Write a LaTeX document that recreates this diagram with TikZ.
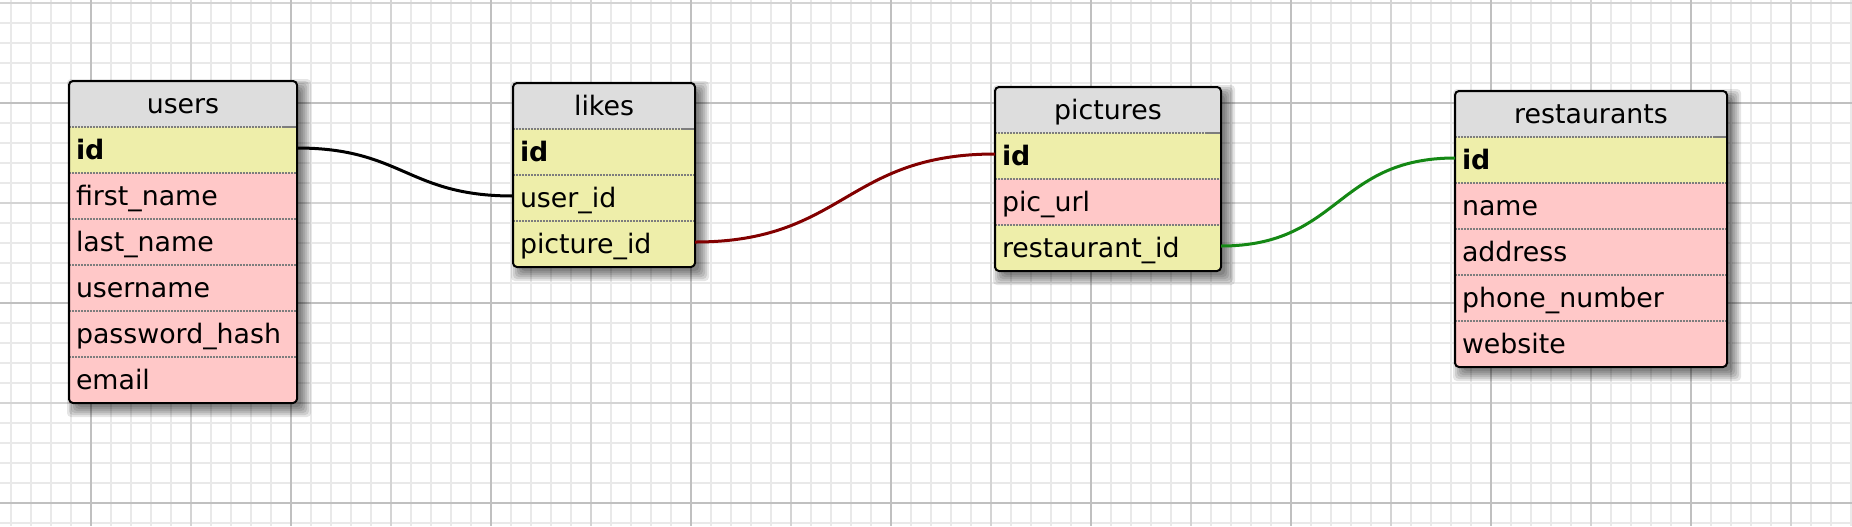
\documentclass[tikz,border=0pt]{standalone}
\usepackage{fontspec}
\setmainfont{DejaVu Sans}
\usetikzlibrary{positioning}
\definecolor{hdrcol}{RGB}{221,221,221}
\definecolor{keycol}{RGB}{238,238,170}
\definecolor{txtcol}{RGB}{255,200,200}
\definecolor{gridminor}{RGB}{233,233,233}
\definecolor{gridmid}{RGB}{212,212,212}
\definecolor{gridmajor}{RGB}{192,192,192}
\definecolor{sepcol}{RGB}{125,125,125}
\definecolor{relred}{RGB}{130,0,0}
\definecolor{relgreen}{RGB}{20,136,20}
\pgfdeclarelayer{gridlayer}
\pgfdeclarelayer{shadowlayer}
\pgfsetlayers{gridlayer,shadowlayer,main}
\newcommand\tableshadow[2]{%
  \begin{pgfonlayer}{shadowlayer}
    \foreach \a/\b in {8/4,6/6,4/8,2/10,0/12,-2/14}
      \fill[black,opacity=0.1,rounded corners=2pt]
        ([shift={(\a,\a)}]#1.north west) rectangle ([shift={(\b,\b)}]#2.south east);
  \end{pgfonlayer}}
\tikzset{
  cell/.style={rectangle, inner xsep=3.5pt, inner ysep=0pt, outer sep=0pt,
    minimum height=23pt, text height=10pt, text depth=0.5pt,
    font=\fontsize{13.4pt}{15pt}\selectfont, text width=#1, align=left},
  hdr/.style={cell=#1, fill=hdrcol, align=center},
  keyrow/.style={cell=#1, fill=keycol},
  txtrow/.style={cell=#1, fill=txtcol},
  sep/.style={draw=sepcol, line width=0.65pt, dash pattern=on 0.75pt off 0.75pt},
  sepsolid/.style={draw=sepcol, line width=0.8pt},
  tblborder/.style={draw=black, line width=1pt, rounded corners=2pt},
  gminor/.style={draw=gridminor, line width=0.75pt},
  gmid/.style={draw=gridmid, line width=1pt},
  gmajor/.style={draw=gridmajor, line width=1pt},
  rel/.style={line width=1.5pt, out=0, in=180, looseness=1.22},
}
\begin{document}
\begin{tikzpicture}[x=0.5pt,y=-0.5pt]
\useasboundingbox (0,0) rectangle (1852,526);
\begin{pgfonlayer}{gridlayer}
  \fill[white] (0,0) rectangle (1852,526);
  \foreach \x in {11,31,...,1851} \draw[gminor] (\x,0) -- (\x,526);
  \foreach \y in {3,23,...,523} \draw[gminor] (0,\y) -- (1852,\y);
  \foreach \x in {191,391,...,1791} \draw[gmid] (\x,0) -- (\x,526);
  \foreach \y in {3,203,403} \draw[gmid] (0,\y) -- (1852,\y);
  \foreach \x in {91,291,...,1691} \draw[gmajor] (\x,0) -- (\x,526);
  \foreach \y in {103,303,503} \draw[gmajor] (0,\y) -- (1852,\y);
\end{pgfonlayer}

% users
\node[hdr=107pt, anchor=north west] (users) at (69,81) {users};
\node[keyrow=107pt, below=0pt of users] (users-id) {\textbf{id}};
\node[txtrow=107pt, below=0pt of users-id] (users-fn) {first\_name};
\node[txtrow=107pt, below=0pt of users-fn] (users-ln) {last\_name};
\node[txtrow=107pt, below=0pt of users-ln] (users-un) {username};
\node[txtrow=107pt, below=0pt of users-un] (users-pw) {password\_hash};
\node[txtrow=107pt, below=0pt of users-pw] (users-em) {email};
\tableshadow{users}{users-em}
\foreach \r in {users-id,users-fn,users-ln,users-un,users-pw}
  \draw[sep] (\r.south west) -- (\r.south east);

% likes
\node[hdr=84pt, anchor=north west] (likes) at (513,83) {likes};
\node[keyrow=84pt, below=0pt of likes] (likes-id) {\textbf{id}};
\node[keyrow=84pt, below=0pt of likes-id] (likes-uid) {user\_id};
\node[keyrow=84pt, below=0pt of likes-uid] (likes-pid) {picture\_id};
\tableshadow{likes}{likes-pid}
\foreach \r in {likes-id,likes-uid}
  \draw[sep] (\r.south west) -- (\r.south east);

% pictures
\node[hdr=106pt, anchor=north west] (pictures) at (995,87) {pictures};
\node[keyrow=106pt, below=0pt of pictures] (pictures-id) {\textbf{id}};
\node[txtrow=106pt, below=0pt of pictures-id] (pictures-url) {pic\_url};
\node[keyrow=106pt, below=0pt of pictures-url] (pictures-rid) {restaurant\_id};
\tableshadow{pictures}{pictures-rid}
\foreach \r in {pictures-id,pictures-url}
  \draw[sep] (\r.south west) -- (\r.south east);

% restaurants
\node[hdr=129pt, anchor=north west] (rest) at (1455,91) {restaurants};
\node[keyrow=129pt, below=0pt of rest] (rest-id) {\textbf{id}};
\node[txtrow=129pt, below=0pt of rest-id] (rest-name) {name};
\node[txtrow=129pt, below=0pt of rest-name] (rest-addr) {address};
\node[txtrow=129pt, below=0pt of rest-addr] (rest-phone) {phone\_number};
\node[txtrow=129pt, below=0pt of rest-phone] (rest-web) {website};
\tableshadow{rest}{rest-web}
\foreach \r in {rest-id,rest-name,rest-addr,rest-phone}
  \draw[sep] (\r.south west) -- (\r.south east);

% header separators and borders
\foreach \h/\l in {users/users-em,likes/likes-pid,pictures/pictures-rid,rest/rest-web}{
  \draw[sep] (\h.south west) -- (\h.south east);
  \draw[sepsolid] ([xshift=-7pt]\h.south east) -- (\h.south east);
  \draw[tblborder] (\h.north west) rectangle (\l.south east);
}

% relations
\draw[rel, draw=black] ([yshift=1pt]users-id.east) to ([yshift=1pt]likes-uid.west);
\draw[rel, draw=relred] ([yshift=1pt]likes-pid.east) to ([yshift=1pt]pictures-id.west);
\draw[rel, draw=relgreen] ([yshift=1pt]pictures-rid.east) to ([yshift=1pt]rest-id.west);
\end{tikzpicture}
\end{document}
